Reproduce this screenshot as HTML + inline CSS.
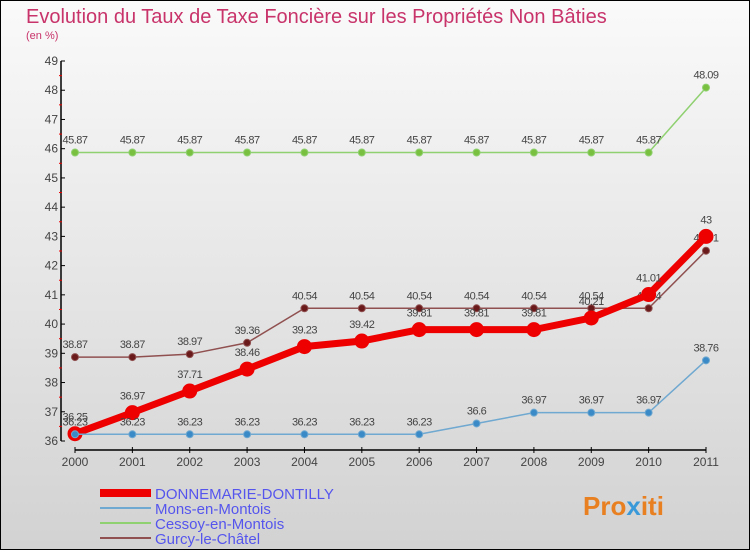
<!DOCTYPE html>
<html><head><meta charset="utf-8"><style>
body{margin:0;width:750px;height:550px;overflow:hidden;font-family:"Liberation Sans",sans-serif}
svg{display:block}
</style></head><body>
<svg width="750" height="550">
<defs><linearGradient id="bg" x1="0" y1="0" x2="0" y2="1"><stop offset="0" stop-color="#fafafa"/><stop offset="1" stop-color="#d2d2d2"/></linearGradient></defs>
<rect x="0.5" y="0.5" width="749" height="549" fill="url(#bg)" stroke="#000"/>
<text x="26" y="23" font-size="20" fill="#c8336a">Evolution du Taux de Taxe Foncière sur les Propriétés Non Bâties</text>
<text x="26" y="39" font-size="11" fill="#c8336a">(en %)</text>
<g id="axes"></g><g id="series"></g>
<g>
<rect x="100" y="489" width="51" height="8" fill="#e00"/>
<text x="155" y="499" font-size="15" fill="#5555ee">DONNEMARIE-DONTILLY</text>
<rect x="100" y="507" width="51" height="2" fill="#6fa8d0"/>
<text x="155" y="514" font-size="15" fill="#5555ee">Mons-en-Montois</text>
<rect x="100" y="522" width="51" height="2" fill="#8fd070"/>
<text x="155" y="529" font-size="15" fill="#5555ee">Cessoy-en-Montois</text>
<rect x="100" y="537" width="51" height="2" fill="#905050"/>
<text x="155" y="544" font-size="15" fill="#5555ee">Gurcy-le-Châtel</text>
</g>
<text x="583" y="515" font-size="26" font-weight="bold" fill="#e87f20">Pro<tspan fill="#3a9ad9">x</tspan>iti</text>
</svg>
<script>
const years=[2000,2001,2002,2003,2004,2005,2006,2007,2008,2009,2010,2011];
const yTicks=[36,37,38,39,40,41,42,43,44,45,46,47,48,49];
const donnemarie=[36.25,36.97,37.71,38.46,39.23,39.42,39.81,39.81,39.81,40.21,41.01,43];
const mons=[36.23,36.23,36.23,36.23,36.23,36.23,36.23,36.6,36.97,36.97,36.97,38.76];
const cessoy=[45.87,45.87,45.87,45.87,45.87,45.87,45.87,45.87,45.87,45.87,45.87,48.09];
const gurcy=[38.87,38.87,38.97,39.36,40.54,40.54,40.54,40.54,40.54,40.54,40.54,42.51];
const NS="http://www.w3.org/2000/svg";
const X=i=>75+i*(706-75)/11;
const Y=v=>441-(v-36)*(380/13);
function mk(t,a,p){const e=document.createElementNS(NS,t);for(const k in a)e.setAttribute(k,a[k]);p.appendChild(e);return e;}
const ax=document.getElementById('axes');
let l=mk('line',{x1:61,y1:61,x2:61,y2:441,stroke:'#000','stroke-width':1.5},ax);


l=mk('line',{x1:75,y1:450,x2:706,y2:450,stroke:'#000','stroke-width':1.5},ax);


yTicks.forEach(v=>{
 mk('line',{x1:61,y1:Y(v),x2:65,y2:Y(v),stroke:'#000'},ax);
 if(v<49)mk('line',{x1:59,y1:Y(v+0.5),x2:62,y2:Y(v+0.5),stroke:'#e00'},ax);
 const t=mk('text',{x:58,y:Y(v)+4,'font-size':12,fill:'#444','text-anchor':'end'},ax);t.textContent=v;
 
 
});
years.forEach((y,i)=>{
 mk('line',{x1:X(i),y1:447,x2:X(i),y2:453,stroke:'#000'},ax);
 const t=mk('text',{x:X(i),y:466,'font-size':12,fill:'#444','text-anchor':'middle'},ax);t.textContent=y;
 
 
});
const sg=document.getElementById('series');
function draw(vals,name,color,w,r,fill,off){
 const g=mk('g',{},sg);
 
 
 const p=mk('polyline',{points:vals.map((v,i)=>X(i)+','+Y(v)).join(' '),fill:'none',stroke:color,'stroke-width':w},g);
 
 
 vals.forEach((v,i)=>{
  const c=mk('circle',{cx:X(i),cy:Y(v),r:r,fill:fill,stroke:color,'stroke-width':1},g);
  
  
  const t=mk('text',{x:X(i),y:Y(v)+off,'font-size':11,fill:'#444','text-anchor':'middle','letter-spacing':'-0.5'},g);t.textContent=v;
  
  
 });
}
draw(cessoy,'cessoy','#8fd070',1.5,3.5,'#7ac040',-9);
draw(gurcy,'gurcy','#905050',1.5,3.5,'#6a1a1a',-9);
draw(donnemarie,'donnemarie','#e00',7,7,'#e00',-13);
draw(mons,'mons','#6fa8d0',1.5,3.5,'#3a8ac8',-9);
</script>
</body></html>
